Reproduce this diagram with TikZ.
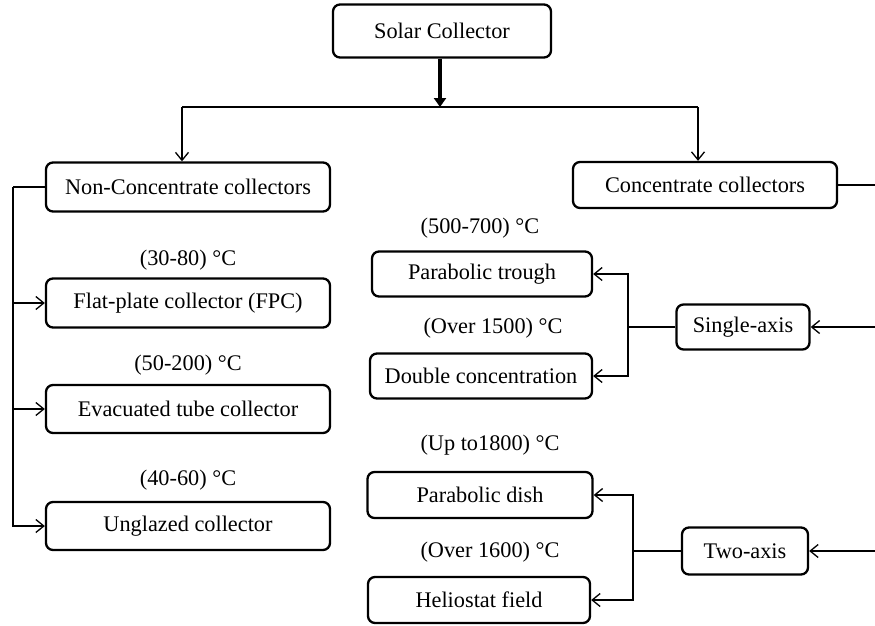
\documentclass[tikz,border=0pt]{standalone}
\usepackage{fontspec}
\setmainfont{Liberation Serif}
\usetikzlibrary{arrows.meta}
\begin{document}
\begin{tikzpicture}[x=1pt,y=-1pt,
  box/.style={draw, rounded corners=7pt, line width=2.3pt, inner sep=0pt, font=\fontsize{22.3}{26}\selectfont},
  lbl/.style={inner sep=0pt, font=\fontsize{22.3}{26}\selectfont},
  conn/.style={line width=1.3pt},
  arr/.style={conn, -{Straight Barb[length=8pt,width=13pt,line width=1.3pt]}},
  bigarr/.style={line width=4pt, -{Triangle[length=9pt,width=12pt]}}]
\useasboundingbox (0,0) rectangle (875,625);
% boxes
\node[box, minimum width=218pt, minimum height=53pt] (sc) at (442,31) {Solar Collector};
\node[box, minimum width=284pt, minimum height=49pt] (ncc) at (188,187) {Non-Concentrate collectors};
\node[box, minimum width=264pt, minimum height=46pt] (cc) at (705,185) {Concentrate collectors};
\node[box, minimum width=284pt, minimum height=49pt] (fpc) at (188,303) {Flat-plate collector (FPC)};
\node[box, minimum width=284pt, minimum height=48pt] (etc) at (188,409) {Evacuated tube collector};
\node[box, minimum width=284pt, minimum height=48pt] (un) at (188,526) {Unglazed collector};
\node[box, minimum width=220pt, minimum height=45pt] (pt) at (482,274) {Parabolic trough};
\node[box, minimum width=222pt, minimum height=45pt] (dc) at (481,376) {Double concentration};
\node[box, minimum width=133pt, minimum height=45pt] (sa) at (743,327) {Single-axis};
\node[box, minimum width=225pt, minimum height=46pt] (pd) at (480,495) {Parabolic dish};
\node[box, minimum width=222pt, minimum height=46pt] (hf) at (479,600) {Heliostat field};
\node[box, minimum width=126pt, minimum height=47pt] (ta) at (745,551) {Two-axis};
% labels
\node[lbl] (l1) at (188,260) {(30-80) °C};
\node[lbl] (l2) at (188,365) {(50-200) °C};
\node[lbl] (l3) at (188,480) {(40-60) °C};
\node[lbl] (l4) at (480,228) {(500-700) °C};
\node[lbl] (l5) at (493,328) {(Over 1500) °C};
\node[lbl] (l6) at (490,445) {(Up to1800) °C};
\node[lbl] (l7) at (490,552) {(Over 1600) °C};
% coordinates
\coordinate (jl) at (182,107);
\coordinate (jr) at (698,107);
\coordinate (ls) at (13,187);
\coordinate (redge) at (875,0);
\coordinate (b1) at (628,327);
\coordinate (b2) at (633,551);
% connectors
\draw[bigarr] (sc.south -| 440,0) -- (440,107);
\draw[conn] (jl) -- (jr);
\draw[arr] (jl) -- (jl |- ncc.north);
\draw[arr] (jr) -- (jr |- cc.north);
\draw[conn] (ncc.west) -- (ls);
\draw[arr] (ls) |- (un.west);
\draw[arr] (ls |- fpc.west) -- (fpc.west);
\draw[arr] (ls |- etc.west) -- (etc.west);
\draw[conn] (cc.east) -- (cc.east -| redge);
\draw[arr] (sa.east -| redge) -- (sa.east);
\draw[arr] (ta.east -| redge) -- (ta.east);
\draw[conn] (sa.west) -- (b1);
\draw[arr] (b1) |- (pt.east);
\draw[arr] (b1) |- (dc.east);
\draw[conn] (ta.west) -- (b2);
\draw[arr] (b2) |- (pd.east);
\draw[arr] (b2) |- (hf.east);
\end{tikzpicture}
\end{document}
